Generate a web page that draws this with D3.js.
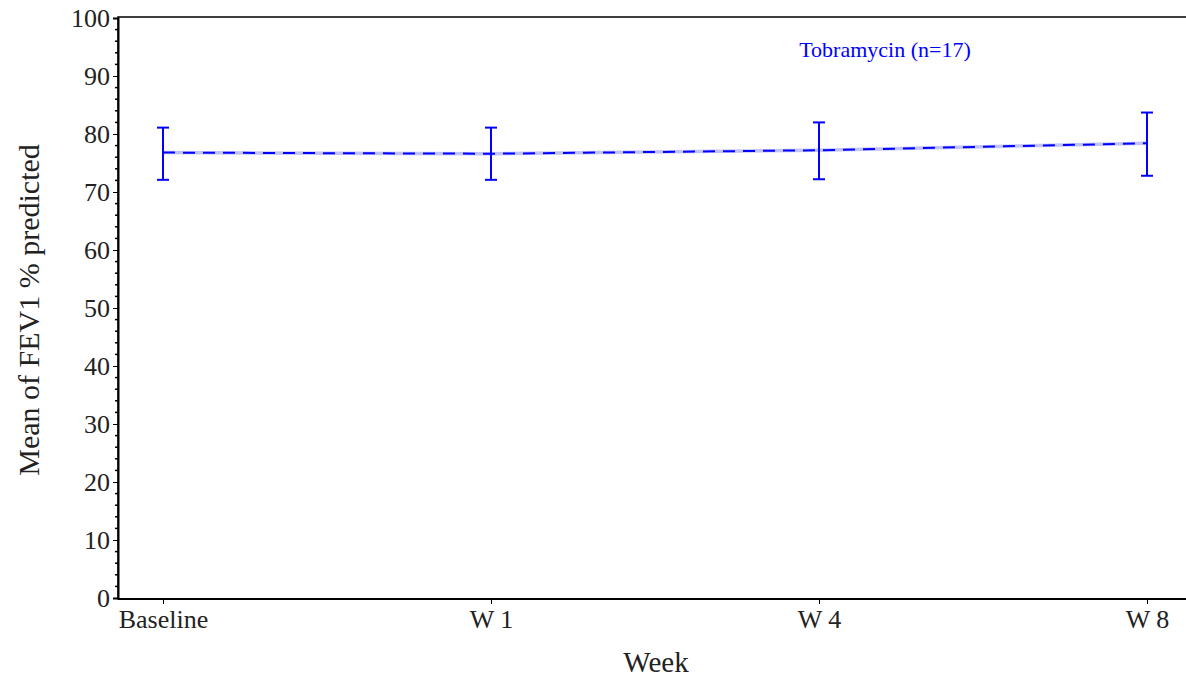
<!DOCTYPE html>
<html><head><meta charset="utf-8">
<script src="https://cdn.jsdelivr.net/npm/d3@7"></script>
<style>body{margin:0;background:#fff}svg{display:block}</style>
</head><body>
<svg id="c" width="1186" height="677"></svg>
<script>
const categories = ["Baseline", "W 1", "W 4", "W 8"];
const means = [76.8, 76.6, 77.2, 78.4];
const lower = [72.1, 72.1, 72.2, 72.8];
const upper = [81.1, 81.1, 82.0, 83.7];
const yTicks = [0,10,20,30,40,50,60,70,80,90,100];
const seriesName = "Tobramycin (n=17)";

(function(){
const svg = d3.select("#c");
const pL = 118, pR = 1190, pT = 17, pB = 599;
const x = d3.scalePoint().domain(categories).range([163, 1147]);
const y = d3.scaleLinear().domain([0, 100]).range([598, 18]);
const serif = "'Liberation Serif','Times New Roman',serif";

// frame
svg.append("rect").attr("x", pL).attr("y", pT).attr("width", pR - pL).attr("height", pB - pT)
  .attr("fill", "none").attr("stroke", "#000").attr("stroke-width", 1.5);

// y axis
const ya = svg.append("g").attr("transform", `translate(${pL},0)`)
  .call(d3.axisLeft(y).tickValues(yTicks).tickSize(5).tickPadding(3));
ya.select(".domain").attr("stroke-width", 2);
ya.selectAll("text").attr("font-family", serif).attr("font-size", 26).attr("fill", "#222");
// minor ticks
const minor = d3.range(0, 101, 2).filter(v => v % 10 !== 0);
svg.append("g").selectAll("line").data(minor).join("line")
  .attr("x1", pL - 3).attr("x2", pL).attr("y1", d => y(d)).attr("y2", d => y(d))
  .attr("stroke", "#000").attr("stroke-width", 1.5);

// x axis
const xa = svg.append("g").attr("transform", `translate(0,${pB})`)
  .call(d3.axisBottom(x).tickSize(5).tickPadding(6));
xa.select(".domain").attr("d", `M${pL},0H${pR}`).attr("stroke-width", 2);
xa.selectAll("text").attr("font-family", serif).attr("font-size", 26).attr("fill", "#222");

// axis titles
svg.append("text").attr("x", 656).attr("y", 672).attr("text-anchor", "middle")
  .attr("font-family", serif).attr("font-size", 29).attr("fill", "#222").text("Week");
svg.append("text").attr("transform", `translate(39,310) rotate(-90)`)
  .attr("text-anchor", "middle").attr("font-family", serif).attr("font-size", 30).attr("fill", "#222")
  .text("Mean of FEV1 % predicted");

// series
const data = categories.map((c, i) => ({c, m: means[i], lo: lower[i], hi: upper[i]}));
const line = d3.line().x(d => x(d.c)).y(d => y(d.m));
svg.append("path").datum(data).attr("d", line).attr("fill", "none")
  .attr("stroke", "#9999ff").attr("stroke-opacity", 0.6).attr("stroke-width", 3.5);
svg.append("path").datum(data).attr("d", line).attr("fill", "none")
  .attr("stroke", "#0000ff").attr("stroke-width", 2).attr("stroke-dasharray", "12,8");

const eb = svg.append("g").attr("stroke", "#0000ff").attr("stroke-width", 2);
eb.selectAll(".v").data(data).join("line").attr("class", "v")
  .attr("x1", d => x(d.c)).attr("x2", d => x(d.c)).attr("y1", d => y(d.lo)).attr("y2", d => y(d.hi));
eb.selectAll(".t").data(data).join("line").attr("class", "t")
  .attr("x1", d => x(d.c) - 6).attr("x2", d => x(d.c) + 6).attr("y1", d => y(d.hi)).attr("y2", d => y(d.hi));
eb.selectAll(".b").data(data).join("line").attr("class", "b")
  .attr("x1", d => x(d.c) - 6).attr("x2", d => x(d.c) + 6).attr("y1", d => y(d.lo)).attr("y2", d => y(d.lo));

// legend label
svg.append("text").attr("x", 885).attr("y", 57).attr("text-anchor", "middle")
  .attr("font-family", serif).attr("font-size", 22).attr("fill", "#0000ff").text(seriesName);
})();
</script>
</body></html>
